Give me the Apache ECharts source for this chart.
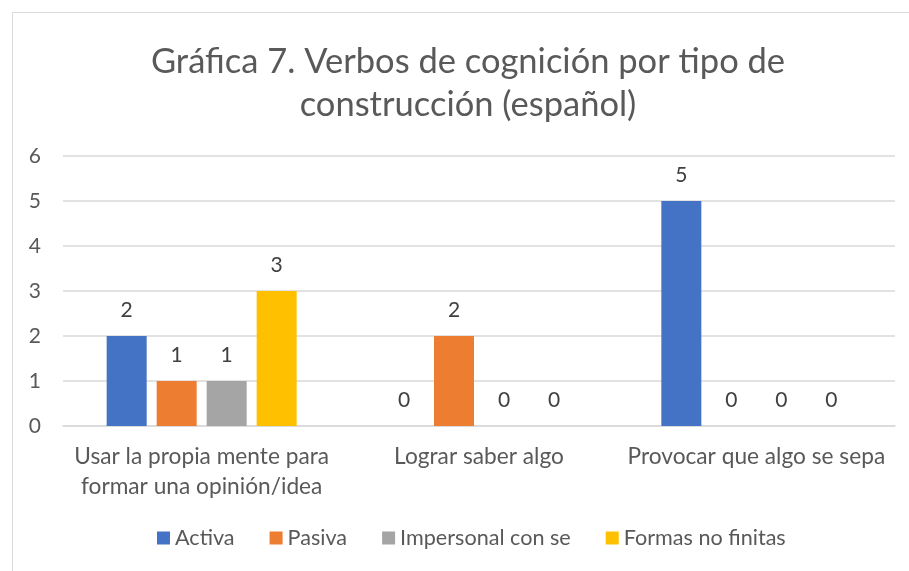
<!DOCTYPE html>
<html>
<head>
<meta charset="utf-8">
<script src="https://cdn.jsdelivr.net/npm/echarts@6/dist/echarts.min.js"></script>
<style>
  html, body { margin: 0; padding: 0; background: #fff; }
  #chart { width: 909px; height: 571px; }
</style>
</head>
<body>
<div id="chart"></div>
<script>
const categories = ["Usar la propia mente para\nformar una opinión/idea", "Lograr saber algo", "Provocar que algo se sepa"]
const seriesNames = ["Activa", "Pasiva", "Impersonal con se", "Formas no finitas"]
const activa = [2, 0, 5]
const pasiva = [1, 2, 0]
const impersonal = [1, 0, 0]
const noFinitas = [3, 0, 0]
const colors = ["#4472C4", "#ED7D31", "#A5A5A5", "#FFC000"]

const fontFamily = "Lato, 'Open Sans', sans-serif"
const seriesData = [activa, pasiva, impersonal, noFinitas]

const makeSeries = () => {
    return seriesNames.map((name, i) => {
        return {
            name: name,
            type: 'bar',
            data: seriesData[i],
            barWidth: 40,
            barGap: '25%',
            itemStyle: { color: colors[i] },
            label: {
                show: true,
                position: 'top',
                distance: 15,
                color: '#404040',
                fontSize: 21,
                fontFamily: fontFamily
            }
        }
    })
}

let chart = echarts.init(document.getElementById('chart'))
chart.setOption({
    animation: false,
    textStyle: { fontFamily: fontFamily },
    graphic: [{
        type: 'rect',
        shape: { x: 12.5, y: 12.5, width: 1000, height: 1000 },
        style: { fill: 'none', stroke: '#d9d9d9', lineWidth: 1 }
    }],
    title: {
        text: "Gráfica 7. Verbos de cognición por tipo de\nconstrucción (español)",
        left: 463,
        top: 35,
        textAlign: 'center',
        textStyle: {
            color: '#595959',
            fontSize: 34.5,
            fontWeight: 'normal',
            lineHeight: 43,
            fontFamily: fontFamily
        }
    },
    legend: {
        bottom: 17,
        left: 152,
        itemWidth: 13,
        itemHeight: 13,
        itemGap: 35,
        icon: 'rect',
        textStyle: { color: '#595959', fontSize: 21.6, fontFamily: fontFamily }
    },
    grid: { left: 63, right: 14, top: 156, bottom: 145 },
    xAxis: {
        type: 'category',
        data: categories,
        axisLine: { lineStyle: { color: '#d9d9d9', width: 1.5 } },
        axisTick: { show: false },
        axisLabel: { color: '#595959', fontSize: 22.7, lineHeight: 30, margin: 16, interval: 0 }
    },
    yAxis: {
        type: 'value',
        min: 0,
        max: 6,
        interval: 1,
        axisLine: { show: false },
        axisTick: { show: false },
        axisLabel: { color: '#595959', fontSize: 21, margin: 22 },
        splitLine: { lineStyle: { color: '#d9d9d9', width: 1.5 } }
    },
    series: makeSeries()
})
</script>
</body>
</html>
